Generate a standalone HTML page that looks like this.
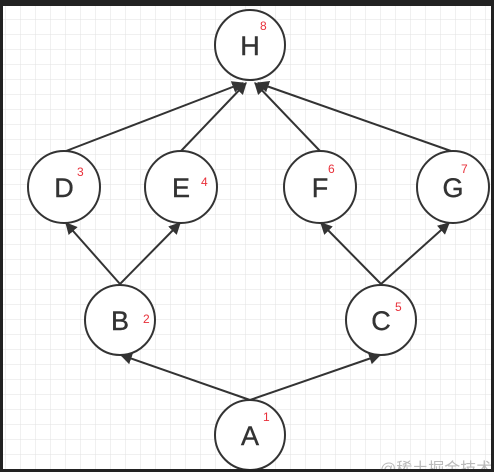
<!DOCTYPE html>
<html><head><meta charset="utf-8"><style>
html,body{margin:0;padding:0;background:#222;}
svg{display:block;font-family:"Liberation Sans",sans-serif;}
</style></head><body>
<svg width="494" height="472" viewBox="0 0 494 472">
<defs>
<pattern id="grid" width="15" height="15" patternUnits="userSpaceOnUse" x="5" y="4">
<path d="M0 0H15M0 0V15" stroke="#e2e2e2" stroke-width="1" fill="none"/>
</pattern>
<marker id="ar" viewBox="0 0 10 10" refX="9" refY="5" markerWidth="6" markerHeight="6" orient="auto">
<path d="M0 0L10 5L0 10z" fill="#333"/>
</marker>
</defs>
<rect x="3" y="6" width="488" height="463" fill="#fff"/>
<rect x="3" y="6" width="488" height="463" fill="url(#grid)"/>
<g stroke="#333" stroke-width="2" marker-end="url(#ar)">
<line x1="250" y1="400" x2="121" y2="355"/>
<line x1="250" y1="400" x2="380" y2="355"/>
<line x1="120" y1="284" x2="66" y2="223"/>
<line x1="120" y1="284" x2="180" y2="223"/>
<line x1="381" y1="284" x2="321" y2="223"/>
<line x1="381" y1="284" x2="449" y2="223"/>
<line x1="66" y1="151" x2="243" y2="83"/>
<line x1="181" y1="151" x2="246" y2="83"/>
<line x1="320" y1="151" x2="255" y2="83"/>
<line x1="451" y1="151" x2="258" y2="83"/>
</g>
<g fill="#fff" stroke="#333" stroke-width="2">
<circle cx="250" cy="45" r="35"/>
<circle cx="64" cy="187" r="36"/>
<circle cx="181" cy="187" r="36"/>
<circle cx="320" cy="187" r="36"/>
<circle cx="453" cy="187" r="36"/>
<circle cx="120" cy="320" r="35"/>
<circle cx="381" cy="320" r="35"/>
<circle cx="250" cy="435" r="35"/>
</g>
<g fill="#333" font-size="27" text-anchor="middle" stroke="#333" stroke-width="0.4">
<text x="250" y="55">H</text>
<text x="64" y="197">D</text>
<text x="181" y="197">E</text>
<text x="320" y="197">F</text>
<text x="453" y="197">G</text>
<text x="120" y="330">B</text>
<text x="381" y="330">C</text>
<text x="250" y="445">A</text>
</g>
<g fill="#e8303a" font-size="12">
<text x="260" y="30">8</text>
<text x="77" y="176">3</text>
<text x="201" y="186">4</text>
<text x="328" y="173">6</text>
<text x="461" y="173">7</text>
<text x="143" y="323">2</text>
<text x="395" y="311">5</text>
<text x="263" y="421">1</text>
</g>
<text x="380" y="474" font-size="16" fill="#bbb" font-family="'Liberation Sans','Noto Sans CJK SC',sans-serif">@稀土掘金技术</text>
<rect x="0" y="0" width="494" height="6" fill="#222"/>
<rect x="0" y="0" width="3" height="472" fill="#222"/>
<rect x="491" y="0" width="3" height="472" fill="#222"/>
<rect x="0" y="469" width="494" height="3" fill="#222"/>
</svg>
</body></html>
